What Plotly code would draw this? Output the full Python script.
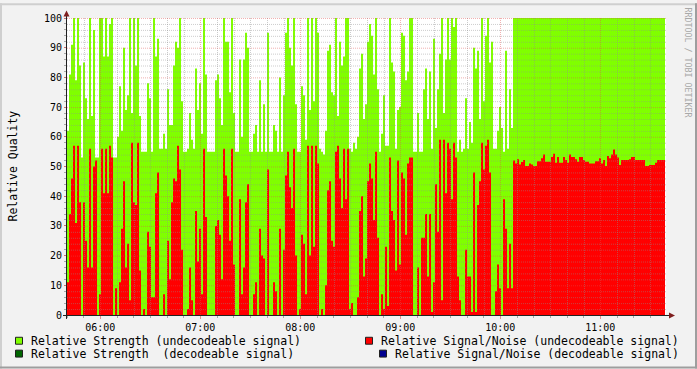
import plotly.graph_objects as go
from datetime import datetime, timedelta

# ---------------- data ----------------
START = datetime(2012, 6, 15, 5, 40, 0)   # first RRD row
STEP_SECONDS = 72                         # one value per 72 s
VIEW_SECONDS = 599 * 36                   # visible time span

strength_undecodeable = [
    62, 81, 91, 100, 79, 100, 84, 53, 85, 73,
    66, 100, 67, 96, 53, 53, 100, 100, 87, 100,
    87, 98, 100, 53, 53, 60, 77, 62, 90, 69,
    74, 100, 68, 100, 84, 100, 67, 55, 55, 55,
    78, 73, 55, 100, 87, 93, 56, 56, 61, 56,
    76, 64, 64, 84, 92, 90, 100, 72, 55, 55,
    56, 68, 59, 56, 83, 69, 78, 61, 100, 81,
    55, 55, 55, 55, 79, 81, 73, 64, 100, 92,
    92, 75, 100, 68, 55, 55, 86, 60, 86, 95,
    90, 55, 55, 61, 64, 55, 79, 55, 71, 55,
    95, 55, 55, 64, 62, 55, 80, 55, 74, 95,
    100, 90, 84, 100, 71, 55, 55, 77, 74, 59,
    100, 69, 100, 72, 100, 95, 56, 55, 54, 62,
    89, 91, 75, 74, 100, 67, 92, 84, 87, 100,
    100, 56, 55, 58, 56, 60, 83, 88, 66, 71,
    92, 98, 94, 81, 100, 76, 55, 61, 74, 57,
    57, 100, 85, 82, 56, 69, 70, 95, 94, 79,
    82, 100, 100, 55, 55, 68, 55, 55, 76, 83,
    66, 82, 56, 93, 63, 76, 88, 100, 68, 86,
    100, 86, 100, 97, 100, 55, 59, 55, 56, 73,
    56, 65, 58, 90, 83, 89, 66, 100, 72, 94,
    100, 85, 92, 56, 56, 62, 70, 63, 55, 89,
    56, 76, 63,
    100, 100, 100, 100, 100, 100, 100, 100, 100, 100,
    100, 100, 100, 100, 100, 100, 100, 100, 100, 100,
    100, 100, 100, 100, 100, 100, 100, 100, 100, 100,
    100, 100, 100, 100, 100, 100, 100, 100, 100, 100,
    100, 100, 100, 100, 100, 100, 100, 100, 100, 100,
    100, 100, 100, 100, 100, 100, 100, 100, 100, 100,
    100, 100, 100, 100, 100, 100, 100, 100, 100, 100,
    100, 100, 100, 100, 100, 100,
]

snr_undecodeable = [
    11, 34, 46, 57, 31, 57, 38, 0, 38, 25,
    16, 56, 16, 50, 52, 0, 7, 56, 41, 56,
    41, 57, 53, 0, 9, 0, 11, 29, 45, 16,
    24, 5, 58, 38, 37, 58, 15, 0, 2, 0,
    28, 23, 6, 6, 41, 48, 0, 0, 7, 0,
    25, 12, 38, 46, 45, 57, 49, 22, 0, 0,
    2, 16, 5, 0, 35, 18, 29, 7, 56, 33,
    0, 0, 0, 0, 30, 32, 27, 12, 56, 47,
    40, 25, 56, 17, 0, 0, 39, 7, 16, 38,
    44, 0, 0, 7, 11, 0, 29, 20, 19, 0,
    49, 0, 0, 11, 8, 0, 29, 0, 22, 47,
    55, 43, 36, 56, 20, 0, 2, 27, 24, 7,
    57, 20, 57, 23, 57, 51, 0, 2, 0, 10,
    42, 45, 25, 23, 55, 57, 46, 36, 56, 39,
    56, 2, 4, 0, 0, 6, 35, 40, 13, 19,
    45, 51, 46, 32, 55, 26, 0, 7, 2, 23,
    3, 53, 35, 32, 15, 52, 17, 48, 46, 27,
    51, 53, 53, 0, 0, 16, 0, 26, 26, 34,
    13, 34, 1, 11, 44, 28, 59, 5, 59, 41,
    58, 56, 39, 58, 53, 13, 5, 0, 0, 22,
    13, 13, 1, 48, 1, 37, 45, 58, 49, 57,
    59, 48, 0, 0, 8, 17, 9, 0, 39, 29,
    9, 24, 9,
    52, 51, 52.4, 50.7, 51.5, 52.2, 50.2, 50.2, 51, 50.7,
    50.2, 50.2, 51.8, 51.8, 52.8, 54, 51.6, 51.6, 51.6, 53.2,
    54.3, 51.3, 53.2, 51.3, 51.3, 53.2, 52.2, 51.3, 54, 53.2,
    53.2, 52.4, 51.6, 53.2, 53.2, 52.2, 51.6, 51.6, 51, 51,
    51, 51.8, 51.8, 52.8, 51, 52.2, 50.2, 53.5, 52.8, 54,
    55.7, 54, 53, 50.5, 52.2, 52.2, 52.2, 52.2, 52.4, 53.2,
    53.2, 52.2, 52.2, 52.2, 52.2, 52.2, 50.2, 50.2, 50.5, 50.5,
    50.5, 51.3, 52.2, 52.2, 52.2, 52.2,
]

# the decodeable series carry no data in this period
strength_decodeable = []
snr_decodeable = []

y_tick_values = [0, 10, 20, 30, 40, 50, 60, 70, 80, 90, 100]

legend_items = [
    ("Relative Strength (undecodeable signal)", "#80FF00", 15, 341),
    ("Relative Strength  (decodeable signal)", "#006600", 15, 354),
    ("Relative Signal/Noise (undecodeable signal)", "#FF0000", 365, 341),
    ("Relative Signal/Noise (decodeable signal)", "#000090", 379, 354),
]

# ---------------- styling ----------------
GREEN, RED = "#80FF00", "#FF0000"
GRID = "rgba(143,143,143,0.45)"
MGRID = "rgba(222,79,79,0.45)"
TICK_GRID = "rgba(143,143,143,0.75)"
TICK_MGRID = "rgba(222,79,79,0.6)"
AXIS = "#202020"
ARROW = "#7F1F1F"
MONO = "DejaVu Sans Mono"

FIG_W, FIG_H = 697, 369
L, T, W, H = 67, 15, 599, 300


def px(x):
    return (x - L) / W


def py(y):
    return (T + H - y) / H


fig = go.Figure()


def step_series(values):
    xs = [START + timedelta(seconds=STEP_SECONDS * i) for i in range(len(values) + 1)]
    ys = list(values) + [values[-1]]
    return xs, ys


for vals, color in [(strength_undecodeable, GREEN), (snr_undecodeable, RED)]:
    xs, ys = step_series(vals)
    fig.add_trace(go.Scatter(
        x=xs, y=ys, mode="lines",
        line=dict(shape="hv", width=0, color=color),
        fill="tozeroy", fillcolor=color, hoverinfo="skip",
    ))

shapes = []
# vertical grid (every 10 min, hours major)
minors, majors = [], []
for m in range(10, 360, 10):
    xp = round(L + m * 60 / 36) + 0.5
    (majors if (m + 40) % 60 == 0 else minors).append(xp)
# horizontal grid (every 2 units, every 10 major)
hmin, hmaj = [], []
for v in range(2, 101, 2):
    yp = T + H - 3 * v + 0.5
    (hmaj if v % 10 == 0 else hmin).append(yp)

for xs_, col in [(minors, GRID), (majors, MGRID)]:
    for xp in xs_:
        shapes.append(dict(type="line", xref="paper", yref="paper",
                           x0=px(xp), x1=px(xp), y0=py(T + H), y1=py(T),
                           line=dict(color=col, width=1, dash="1px,1px"), layer="above"))
for ys_, col in [(hmin, GRID), (hmaj, MGRID)]:
    for yp in ys_:
        shapes.append(dict(type="line", xref="paper", yref="paper",
                           x0=px(L), x1=px(L + W), y0=py(yp), y1=py(yp),
                           line=dict(color=col, width=1, dash="1px,1px"), layer="above"))

# axes lines and arrows
shapes.append(dict(type="line", xref="paper", yref="paper",
                   x0=px(63), x1=px(670), y0=py(315.5), y1=py(315.5),
                   line=dict(color=AXIS, width=1), layer="above"))
shapes.append(dict(type="line", xref="paper", yref="paper",
                   x0=px(66.5), x1=px(66.5), y0=py(319), y1=py(12),
                   line=dict(color=AXIS, width=1), layer="above"))
shapes.append(dict(type="path", xref="paper", yref="paper",
                   path=f"M {px(669)} {py(312.5)} L {px(675)} {py(315.5)} L {px(669)} {py(318.5)} Z",
                   fillcolor=ARROW, line=dict(width=0), layer="above"))
shapes.append(dict(type="path", xref="paper", yref="paper",
                   path=f"M {px(63.5)} {py(13.5)} L {px(66.5)} {py(7.5)} L {px(69.5)} {py(13.5)} Z",
                   fillcolor=ARROW, line=dict(width=0), layer="above"))

# outer 3D frame
for (x0, x1, y0, y1, c) in [
    (0, FIG_W, 0, 2, "#CFCFCF"), (0, 2, 0, FIG_H, "#CFCFCF"),
    (0, FIG_W, FIG_H - 2, FIG_H, "#9E9E9E"), (FIG_W - 2, FIG_W, 0, FIG_H, "#9E9E9E"),
]:
    shapes.append(dict(type="rect", xref="paper", yref="paper",
                       x0=px(x0), x1=px(x1), y0=py(y1), y1=py(y0),
                       fillcolor=c, line=dict(width=0), layer="above"))

annotations = []
for text, color, bx, cy in legend_items:
    shapes.append(dict(type="rect", xref="paper", yref="paper",
                       x0=px(bx + 0.5), x1=px(bx + 7.5), y0=py(cy - 3.5), y1=py(cy + 3.5),
                       fillcolor=color, line=dict(color=AXIS, width=1), layer="above"))
    annotations.append(dict(xref="paper", yref="paper", x=px(bx + 15), y=py(cy),
                            xanchor="left", yanchor="middle", text=text, showarrow=False,
                            borderpad=0, font=dict(family=MONO, size=11.5, color="#000")))

annotations.append(dict(xref="paper", yref="paper", x=px(12), y=py(165),
                        text="Relative Quality", textangle=-90, showarrow=False,
                        xanchor="center", yanchor="middle",
                        font=dict(family=MONO, size=11.5, color="#000")))
annotations.append(dict(xref="paper", yref="paper", x=px(688), y=py(60),
                        text="RRDTOOL / TOBI OETIKER", textangle=90, showarrow=False,
                        xanchor="center", yanchor="middle",
                        font=dict(family=MONO, size=8.3, color="#A8A8A8")))

fig.update_layout(
    width=FIG_W, height=FIG_H,
    margin=dict(l=L, r=FIG_W - L - W, t=T, b=FIG_H - T - H, pad=0),
    paper_bgcolor="#F2F2F2", plot_bgcolor="#FFFFFF",
    showlegend=False,
    shapes=shapes, annotations=annotations,
    xaxis=dict(
        type="date",
        range=[START, START + timedelta(seconds=VIEW_SECONDS)],
        showgrid=False, zeroline=False, showline=False,
        tick0=datetime(2012, 6, 15, 6, 0, 0), dtick=3600000, tickformat="%H:%M",
        ticks="outside", ticklen=3, tickcolor=TICK_MGRID, tickwidth=1,
        minor=dict(dtick=600000, ticks="outside", ticklen=2, tickcolor=TICK_GRID, showgrid=False),
        tickfont=dict(family=MONO, size=10, color="#000"),
        fixedrange=True,
    ),
    yaxis=dict(
        range=[0, 100], showgrid=False, zeroline=False, showline=False,
        tickvals=y_tick_values, ticktext=[str(v) for v in y_tick_values],
        ticks="outside", ticklen=2, tickcolor=TICK_MGRID, tickwidth=1,
        minor=dict(dtick=2, ticks="outside", ticklen=2, tickcolor=TICK_GRID, showgrid=False),
        tickfont=dict(family=MONO, size=10, color="#000"),
        fixedrange=True,
    ),
)

fig.write_html("out.html")
